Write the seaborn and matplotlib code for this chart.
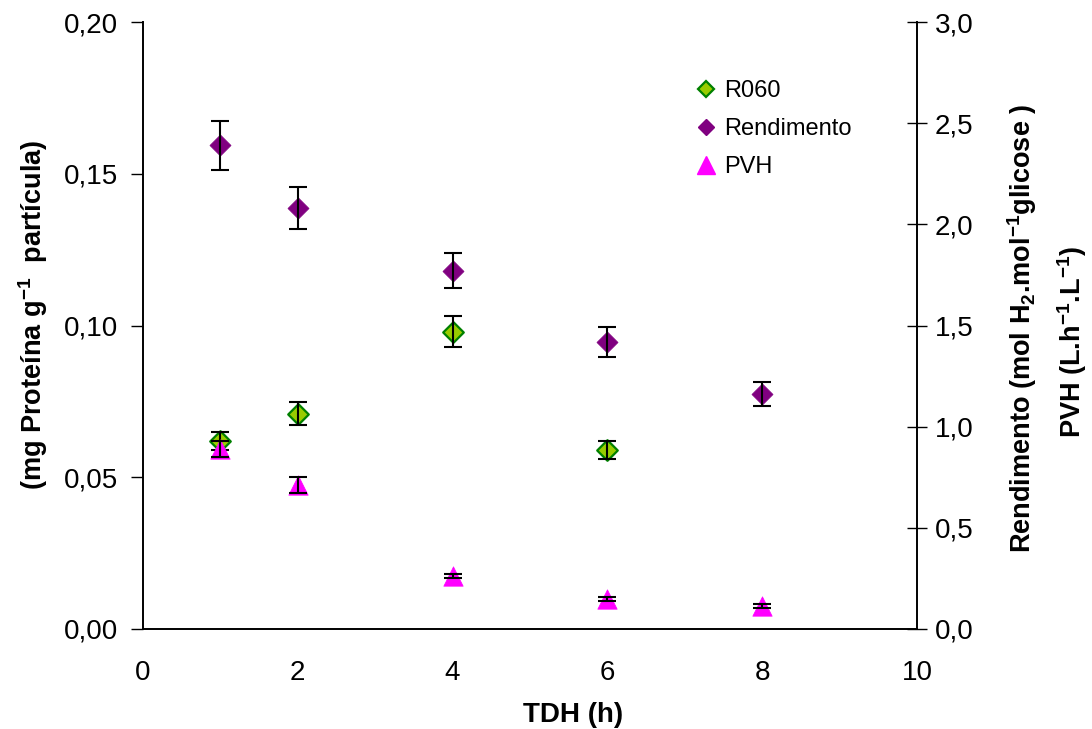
import matplotlib
matplotlib.use("Agg")
import matplotlib.pyplot as plt
import seaborn as sns
import numpy as np
import pandas as pd
from matplotlib.lines import Line2D

# ---- data ----
tdh = [1, 2, 4, 6, 8]
r060 = [0.062, 0.071, 0.098, 0.059, np.nan]
r060_err = [0.003, 0.0038, 0.005, 0.0029, np.nan]
rendimento = [2.39, 2.08, 1.77, 1.42, 1.16]
rendimento_err = [0.12, 0.105, 0.087, 0.075, 0.06]
pvh = [0.89, 0.71, 0.26, 0.15, 0.115]
pvh_err = [0.04, 0.04, 0.01, 0.01, 0.01]

x_ticks = [0, 2, 4, 6, 8, 10]
left_ticks = [0.0, 0.05, 0.10, 0.15, 0.20]
left_labels = ["0,00", "0,05", "0,10", "0,15", "0,20"]
right_ticks = [0.0, 0.5, 1.0, 1.5, 2.0, 2.5, 3.0]
right_labels = ["0,0", "0,5", "1,0", "1,5", "2,0", "2,5", "3,0"]

df = pd.DataFrame({"TDH": tdh, "R060": r060, "R060_err": r060_err,
                   "Rend": rendimento, "Rend_err": rendimento_err,
                   "PVH": pvh, "PVH_err": pvh_err})

sns.set_style("white")
plt.rcParams["font.family"] = ["Liberation Sans", "DejaVu Sans"]
plt.rcParams["mathtext.default"] = "regular"
for k in ("text.color", "axes.labelcolor", "xtick.color", "ytick.color"):
    plt.rcParams[k] = "black"

GREEN_FILL = "#99CC00"
GREEN_EDGE = "#008000"
PURPLE = "#800080"
MAGENTA = "#FF00FF"

fig = plt.figure(figsize=(10.92, 7.29), dpi=100)
ax = fig.add_axes([143/1092, 1-629/729, (917-143)/1092, (629-22)/729])
ax2 = ax.twinx()

EB = dict(fmt="none", ecolor="black", elinewidth=1.5, capsize=6.2, capthick=1.5, zorder=4)

# left axis: R060
sns.scatterplot(data=df, x="TDH", y="R060", ax=ax, marker="D", s=110,
                color=GREEN_FILL, edgecolor=GREEN_EDGE, linewidth=1.6, zorder=3, legend=False)
ax.errorbar(df["TDH"], df["R060"], yerr=df["R060_err"], **EB)

# right axis: Rendimento, PVH
sns.scatterplot(data=df, x="TDH", y="Rend", ax=ax2, marker="D", s=115,
                color=PURPLE, edgecolor=PURPLE, linewidth=0.5, zorder=3, legend=False)
ax2.errorbar(df["TDH"], df["Rend"], yerr=df["Rend_err"], **EB)
sns.scatterplot(data=df, x="TDH", y="PVH", ax=ax2, marker="^", s=195,
                color=MAGENTA, edgecolor=MAGENTA, linewidth=0.5, zorder=3, legend=False)
ax2.errorbar(df["TDH"], df["PVH"], yerr=df["PVH_err"], **EB)

ax.set_xlim(0, 10)
ax.set_ylim(0, 0.20)
ax2.set_ylim(0, 3.0)
ax.set_xticks(x_ticks)
ax.set_xticklabels([str(v) for v in x_ticks])
ax.set_yticks(left_ticks)
ax.set_yticklabels(left_labels)
ax2.set_yticks(right_ticks)
ax2.set_yticklabels(right_labels)

for a in (ax, ax2):
    a.spines["top"].set_visible(False)
    for s in a.spines.values():
        s.set_linewidth(1.4)
        s.set_color("black")
ax.spines["right"].set_visible(False)
ax2.spines["left"].set_visible(False)
ax2.spines["bottom"].set_visible(False)

ax.tick_params(axis="y", direction="out", length=9, width=1.0, labelsize=20, pad=9, colors="black")
ax.tick_params(axis="x", direction="out", length=7, width=1.0, labelsize=20, pad=15, colors="black")
ax2.tick_params(axis="y", direction="inout", length=14, width=1.0, labelsize=20, pad=6, colors="black")

lab_font = ["Liberation Sans", "DejaVu Sans"]
ax.set_xlabel("TDH (h)", fontsize=20, fontweight="bold", family=lab_font, color="black")
ax.xaxis.set_label_coords((573-143)/774, -(715-629)/607)
ax.xaxis.label.set_va("center")
ax.set_ylabel("(mg Proteína g$^{-1}$  partícula)", fontsize=19.5, fontweight="bold",
              family=lab_font, color="black")
ax.yaxis.set_label_coords((33-143)/774, 1-(315-22)/607)
ax.yaxis.label.set_va("center")
ax2.set_ylabel("")

fig.text(1022/1092, 1-328/729, "Rendimento (mol H$_2$.mol$^{-1}$glicose )", rotation=90,
         ha="center", va="center", fontsize=19.5, fontweight="bold", family=lab_font, color="black")
fig.text(1072/1092, 1-342/729, "PVH (L.h$^{-1}$.L$^{-1}$)", rotation=90,
         ha="center", va="center", fontsize=19.5, fontweight="bold", family=lab_font, color="black")

handles = [
    Line2D([], [], ls="none", marker="D", ms=8.5, markerfacecolor=GREEN_FILL,
           markeredgecolor=GREEN_EDGE, markeredgewidth=1.6),
    Line2D([], [], ls="none", marker="D", ms=8.5, markerfacecolor=PURPLE, markeredgecolor=PURPLE),
    Line2D([], [], ls="none", marker="^", ms=13, markerfacecolor=MAGENTA, markeredgecolor=MAGENTA),
]
leg = ax2.legend(handles, ["R060", "Rendimento", "PVH"], loc="center left",
                 bbox_to_anchor=((697-143)/774, 1-(129-22)/607), frameon=False,
                 fontsize=17, handlelength=0.8, handletextpad=0.35, labelspacing=0.68,
                 borderaxespad=0, borderpad=0)
for t in leg.get_texts():
    t.set_color("black")

fig.savefig("out.png", dpi=100)
